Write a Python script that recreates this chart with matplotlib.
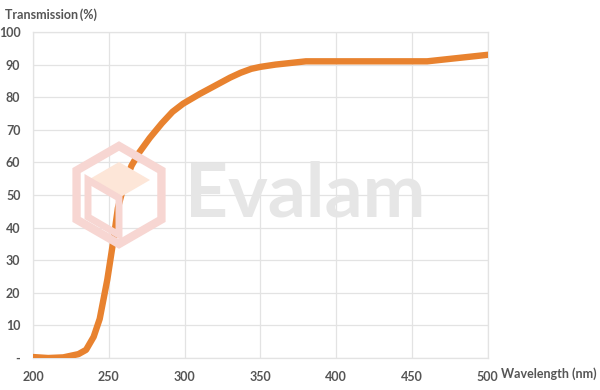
import matplotlib.pyplot as plt
from matplotlib.patches import RegularPolygon, Polygon

# transmission curve
wavelength = [200, 210, 220, 230, 235, 240, 244, 249, 253, 256, 260, 265, 270,
              277, 285, 292, 299, 310, 320, 330, 337, 344, 350, 360, 370, 380,
              400, 430, 460, 480, 500]
transmission = [0.3, 0.0, 0.2, 1.2, 2.5, 6.5, 12, 24, 36, 46, 53, 59, 63,
                67.5, 72, 75.5, 78, 81, 83.5, 86, 87.5, 88.7, 89.3, 90, 90.5, 91,
                91, 91, 91, 92, 93]

x_ticks = [200, 250, 300, 350, 400, 450, 500]
y_ticks = [0, 10, 20, 30, 40, 50, 60, 70, 80, 90, 100]
y_labels = ["-"] + [str(v) for v in y_ticks[1:]]

LINE = "#e8822f"
GRID = "#e3e3e3"
TXT = "#555555"
plt.rcParams["font.family"] = ["Lato", "DejaVu Sans"]

fig = plt.figure(figsize=(6, 3.9), dpi=100)
ax = fig.add_axes([0.055, 0.082, 0.758, 0.836])

# watermark logo (inches from lower-left) and name, behind the data
inch = fig.dpi_scale_trans
fig.patches.append(RegularPolygon((1.19, 1.95), numVertices=6, radius=0.49,
                                  orientation=0, transform=inch,
                                  facecolor="none", edgecolor="#f7d6d2",
                                  lw=6, zorder=0))
fig.patches.append(Polygon([(1.19, 2.28), (1.50, 2.10), (1.19, 1.92), (0.88, 2.10)],
                           closed=True, transform=inch, facecolor="#fde6d8",
                           edgecolor="none", zorder=0))
fig.patches.append(Polygon([(0.88, 2.10), (1.19, 1.92), (1.19, 1.55), (0.88, 1.73)],
                           closed=True, transform=inch, facecolor="none",
                           edgecolor="#f7d6d2", lw=5, zorder=0))
fig.text(0.308, 0.50, "Evalam", color="#e6e6e6", fontsize=54,
         fontweight="bold", ha="left", va="center", zorder=0)

ax.set_facecolor("none")
ax.plot(wavelength, transmission, color=LINE, lw=4.6,
        solid_capstyle="round", solid_joinstyle="round", zorder=3)

ax.set_xlim(200, 500)
ax.set_ylim(0, 100)
ax.set_xticks(x_ticks)
ax.set_yticks(y_ticks)
ax.set_yticklabels(y_labels)
ax.grid(True, color=GRID, lw=0.9)
ax.set_axisbelow(True)
for s in ax.spines.values():
    s.set_color(GRID)
    s.set_linewidth(0.9)
ax.tick_params(length=0, labelsize=9, labelcolor=TXT, pad=9)
for lab in ax.get_xticklabels() + ax.get_yticklabels():
    lab.set_fontweight("bold")

fig.text(0.008, 0.962, "Transmission\u2009(%)", fontsize=9, fontweight="bold",
         color=TXT, ha="left", va="center")
fig.text(0.995, 0.041, "Wavelength (nm)", fontsize=9, fontweight="bold",
         color=TXT, ha="right", va="center")

fig.savefig("out.png", dpi=100)
